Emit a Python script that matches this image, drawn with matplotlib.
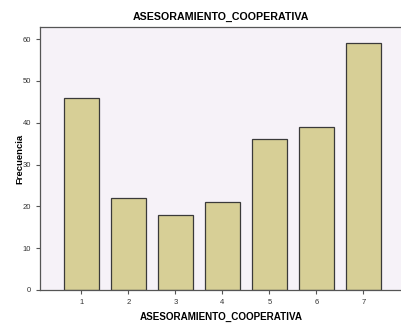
import matplotlib.pyplot as plt
import numpy as np

plt.rcParams['font.family'] = ['Liberation Sans', 'DejaVu Sans']

# Datos
categorias = ['1', '2', '3', '4', '5', '6', '7']
frecuencias = [46, 22, 18, 21, 36, 39, 59]
yticks = [0, 10, 20, 30, 40, 50, 60]

fig = plt.figure(figsize=(4.02, 3.27), dpi=100)
ax = fig.add_axes([40 / 402, 1 - 290 / 327, 362 / 402, 263 / 327])
ax.set_facecolor('#f6f2f8')

x = np.arange(1, len(categorias) + 1)
ax.bar(x, frecuencias, width=0.745, color='#d7cf96', edgecolor='#3a3a3a', linewidth=0.9)

ax.set_xlim(0.12, 7.82)
ax.set_ylim(0, 62.9)
ax.set_xticks(x)
ax.set_xticklabels(categorias)
ax.set_yticks(yticks)

ax.tick_params(axis='both', direction='out', length=3, width=0.8, colors='#555555',
               labelsize=5.5, labelcolor='#333333')
for s in ax.spines.values():
    s.set_color('#555555')
    s.set_linewidth(0.9)

ax.set_title('ASESORAMIENTO_COOPERATIVA', fontsize=7.7, fontweight='bold', pad=5)
ax.set_xlabel('ASESORAMIENTO_COOPERATIVA', fontsize=7.1, fontweight='bold', labelpad=4)
ax.set_ylabel('Frecuencia', fontsize=6.8, fontweight='bold')
ax.yaxis.set_label_coords(-16 / 362, 0.5)

fig.savefig('out.png', dpi=100)
